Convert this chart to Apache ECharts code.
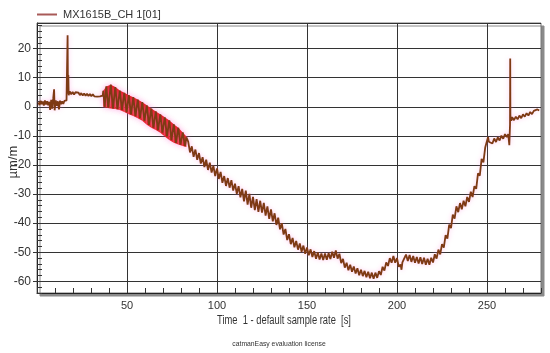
<!DOCTYPE html>
<html>
<head>
<meta charset="utf-8">
<script src="https://cdn.jsdelivr.net/npm/echarts@6/dist/echarts.min.js"></script>
<style>html,body{margin:0;padding:0;background:#fff}#c{width:550px;height:353px}</style>
</head>
<body>
<div id="c"></div>
<script>
// ---- data ----
const seriesName = 'MX1615B_CH 1[01]';
const xTitle = 'Time  1 - default sample rate  [s]';
const yTitle = 'µm/m';
const footer = 'catmanEasy evaluation license';
const xMajorTicks = [50, 100, 150, 200, 250];
const yMajorTicks = [-60, -50, -40, -30, -20, -10, 0, 10, 20];

// strain trace segments [time s, µm/m]
const traceStart = [[0.8,1.5],[1.4,0.6],[2.0,2.1],[2.6,0.9],[3.2,1.8],[3.8,0.4],[4.4,2.2],[5.0,0.8],[5.6,1.9],[6.2,0.5],[6.8,1.7],[7.3,-1.1],[7.9,2.4],[8.4,-0.6],[9.0,2.8],[9.5,6.0],[9.8,-1.2],[10.4,2.2],[11.0,0.3],[11.6,1.9],[12.2,-0.9],[12.8,2.1],[13.4,0.9],[14.0,1.9],[14.6,1.0],[15.2,2.0],[15.8,1.4],[16.4,2.2],[16.8,2.6],[17.0,24.6],[17.2,4.5],[17.4,10.9],[17.6,4.0],[18.2,5.3],[19.0,4.3],[19.8,5.1],[20.6,4.2],[21.4,5.0],[22.2,4.4],[23.0,4.9],[23.8,4.0],[24.6,4.7],[25.4,3.9],[26.2,4.6],[27.0,3.8],[27.8,4.5],[28.6,3.7],[29.4,4.4],[30.2,3.6],[31.0,4.3],[31.8,3.6],[32.6,4.2],[33.4,3.5],[34.2,4.1],[35.0,3.6],[35.8,4.1],[36.5,3.8]];
const traceBand = [[36.8,5.5],[37.6,0],[38.5,7.0],[39.6,-0.3],[41,7.6],[42.2,-0.6],[43.5,6.8],[44.7,-0.8],[46,5.6],[47.2,-1.1],[48.5,4.8],[49.8,-1.8],[51,4.0],[52.2,-2.6],[53.5,3.3],[54.7,-3.2],[56,2.5],[57.2,-3.9],[58.5,1.6],[59.7,-4.8],[61,0.5],[62.2,-6.2],[63.5,-0.6],[64.7,-7.2],[66,-1.6],[67.2,-8.0],[68.5,-2.6],[69.7,-8.9],[71,-3.6],[72.2,-10.2],[73.5,-4.7],[74.7,-11.4],[76,-6.0],[77.2,-12.4],[78.5,-7.2],[79.7,-13.0],[81,-8.8],[82.2,-13.5],[83,-10.5]];
const traceFall = [[84,-12.0],[85,-15.7],[86,-13.6],[87,-17.2],[88,-14.7],[89,-18.2],[90,-15.9],[91,-19.5],[92,-17.3],[93,-20.7],[94,-18.2],[95,-21.7],[96,-19.2],[97,-22.6],[98,-20.3],[99,-23.8],[100,-21.2],[101,-24.8],[102,-22.4],[103,-26.1],[104,-23.8],[105,-27.2],[106,-24.5],[107,-27.8],[108,-25.2],[109,-28.8],[110,-26.4],[111,-29.9],[112,-27.3],[113,-31.1],[114,-28.2],[115,-32.5],[116,-28.8],[117,-33.6],[118,-29.9],[119,-34.7],[120,-31.0],[121,-35.5],[122,-31.7],[123,-36.1],[124,-32.3],[125,-36.4],[126,-33.0],[127,-37.4],[128,-34.2],[129,-38.5],[130,-35.3],[131,-39.4],[132,-36.6],[133,-40.6],[134,-38.1],[135,-42.1],[136,-40.0],[137,-43.9],[138,-42.0],[139,-45.8],[140,-43.8],[141,-47.2],[142,-45.1],[143,-48.3],[144,-46.1],[145,-49.1],[146,-47.0],[147,-49.8],[148,-47.7],[149,-50.5],[150,-48.4],[151,-51.0],[152,-49.0],[153,-51.6],[154,-49.6],[155,-52.2],[156,-50.1],[157,-52.5],[158,-50.4],[159,-52.7],[160,-50.4],[161,-52.6],[162,-50.3],[163,-52.3],[164,-49.8],[165,-51.9],[166,-49.4],[167,-52.2],[168,-50.5],[169,-53.7],[170,-52.3],[171,-55.3],[172,-53.6],[173,-56.2],[174,-54.3],[175,-56.7],[176,-54.9],[177,-57.3],[178,-55.5],[179,-57.9],[180,-56.0],[181,-58.2],[182,-56.4],[183,-58.6],[184,-56.7],[185,-58.9],[186,-57.0],[187,-59.1],[188,-57.0],[189,-58.8],[190,-56.5],[191,-57.8],[192,-55.0],[193,-56.3],[194,-53.5],[195,-54.7],[196,-52.0],[197,-53.6],[198,-51.3],[199,-53.6],[200,-52.0],[201,-55.0],[202,-54.2],[202.5,-56.0],[203,-53.5],[204,-54.0],[205,-50.8]];
const traceRise = [[206,-53.0],[207,-50.9],[208,-53.3],[209,-51.3],[210,-53.6],[211,-51.6],[212,-53.9],[213,-51.7],[214,-54.0],[215,-51.9],[216,-54.3],[217,-52.2],[218,-54.3],[219,-51.9],[220,-53.5],[221,-50.7],[222,-52.2],[223,-49.1],[224,-50.7],[225,-47.2],[226,-48.4],[227,-44.1],[228,-45.3],[229,-40.5],[230,-41.7],[231,-37.1],[232,-38.4],[233,-34.2],[234,-36.2],[235,-33.1],[236,-35.2],[237,-32.3],[238,-34.2],[239,-31.0],[240,-32.7],[241,-29.2],[242,-31.0],[243,-27.3],[244,-28.2],[245,-22.9],[246,-23.7],[247,-17.9],[248,-19.1],[249,-14.0],[250,-14.3],[250.6,-10.4],[251,-12.0],[252,-11.4],[253,-12.6],[254,-10.9],[255,-12.1],[256,-10.5],[257,-11.6],[258,-9.9],[259,-11.0],[260,-9.4],[261,-10.4],[261.8,-9.4],[262.4,-13.2],[262.8,-6.0],[262.9,16.6],[263.0,-3.0],[263.5,-4.8],[264,-3.6],[265,-4.6],[266,-3.4],[267,-4.3],[268,-3.0],[269,-3.9],[270,-2.6],[271,-3.4],[272,-2.2],[273,-3.0],[274,-1.8],[275,-2.5],[276,-1.4],[277,-2.0],[278,-0.9],[279,-1.3]];

// red noise band envelope (time, low, high)
const bandX    = [36.8, 38.5, 41, 43.5, 46, 48.5, 51, 53.5, 56, 58.5, 61, 63.5, 66, 68.5, 71, 73.5, 76, 78.5, 81, 83];
const bandLow  = [0, -0.3, -0.6, -0.8, -1.1, -1.8, -2.6, -3.2, -3.9, -4.8, -6.2, -7.2, -8.0, -8.9, -10.2, -11.4, -12.4, -13.0, -13.5, -13.8];
const bandHigh = [5.5, 7.0, 7.6, 6.8, 5.6, 4.8, 4.0, 3.3, 2.5, 1.6, 0.5, -0.6, -1.6, -2.6, -3.6, -4.7, -6.0, -7.2, -8.8, -10.2];

const trace = traceStart.concat(traceBand, traceFall, traceRise);
const bandData = [];
for (let i = 0; i < bandX.length - 1; i++) {
  bandData.push([bandX[i], bandLow[i], bandHigh[i], bandX[i+1], bandLow[i+1], bandHigh[i+1]]);
}

const FONT = "'Liberation Sans', Arial, sans-serif";
const chart = echarts.init(document.getElementById('c'), null, {renderer: 'canvas'});
const T = 'rgba(0,0,0,0)';
const G = '#333';
chart.setOption({
  animation: false,
  backgroundColor: '#fff',
  grid: {
    left: 37, right: 9, top: 23, bottom: 60,
    show: true, backgroundColor: '#fff', borderColor: '#777', borderWidth: 1,
    shadowColor: '#8a8a8a', shadowBlur: 0, shadowOffsetX: 3, shadowOffsetY: 3
  },
  legend: {
    show: true, left: 37, top: 9, padding: 0, itemWidth: 20, itemHeight: 2, itemGap: 5, icon: 'rect',
    data: [{name: seriesName, itemStyle: {color: '#a85a58'}}],
    textStyle: {fontFamily: FONT, fontSize: 11, color: '#333', padding: [0, 0, 0, 1]}
  },
  xAxis: [{
    type: 'value', min: 0, max: 280, interval: 10,
    axisLine: {show: true, onZero: false, lineStyle: {color: '#222', width: 1}},
    axisTick: {show: true, inside: true, length: 5, lineStyle: {color: '#333'}},
    axisLabel: {fontFamily: FONT, fontSize: 11, color: '#333', margin: 7,
      formatter: v => (v > 0 && v % 50 === 0) ? String(v) : ''},
    splitLine: {show: true, lineStyle: {color: [G, T, T, T, T], width: 1}}
  }, {
    type: 'value', min: 0, max: 280, position: 'bottom',
    axisLine: {show: false},
    axisTick: {show: true, inside: false, length: 4, customValues: xMajorTicks, lineStyle: {color: '#333'}},
    axisLabel: {show: false},
    splitLine: {show: false}
  }],
  yAxis: [{
    type: 'value', min: -64, max: 28.8, interval: 2,
    axisLine: {show: true, onZero: false, lineStyle: {color: '#222', width: 1}},
    axisTick: {show: true, inside: true, length: 5, lineStyle: {color: '#333'}},
    axisLabel: {fontFamily: FONT, fontSize: 12, color: '#333', margin: 6,
      formatter: v => (Math.abs(v % 10) < 1e-9) ? String(v) : ''},
    splitLine: {show: true, lineStyle: {color: [T, T, G, T, T], width: 1}}
  }, {
    type: 'value', min: -64, max: 28.8, position: 'left',
    axisLine: {show: false},
    axisTick: {show: true, inside: false, length: 4, customValues: yMajorTicks, lineStyle: {color: '#333'}},
    axisLabel: {show: false},
    splitLine: {show: false}
  }],
  graphic: [
    {type: 'text', x: 284, y: 321, scaleX: 0.78, style: {text: xTitle, x: 0, y: 0, align: 'center', verticalAlign: 'middle', font: "12px " + FONT, fill: '#333'}},
    {type: 'text', x: 279, y: 344, scaleX: 0.85, style: {text: footer, x: 0, y: 0, align: 'center', verticalAlign: 'middle', font: "8px " + FONT, fill: '#333'}},
    {type: 'text', x: 13, y: 162, rotation: Math.PI / 2, style: {text: yTitle, x: 0, y: 0, align: 'center', verticalAlign: 'middle', font: "13px " + FONT, fill: '#333'}}
  ],
  series: [{
    type: 'custom', name: 'band', xAxisIndex: 0, yAxisIndex: 0, silent: true, z: 2,
    encode: {x: [0, 3], y: [1, 2, 4, 5]},
    data: bandData,
    renderItem: function (params, api) {
      const p = [api.coord([api.value(0), api.value(2)]), api.coord([api.value(3), api.value(5)]),
                 api.coord([api.value(3), api.value(4)]), api.coord([api.value(0), api.value(1)])];
      return {type: 'polygon', shape: {points: p}, style: {fill: '#e3140f', shadowColor: 'rgba(255,120,210,0.45)', shadowBlur: 6}};
    }
  }, {
    type: 'line', name: seriesName, xAxisIndex: 0, yAxisIndex: 0, z: 3,
    data: trace, showSymbol: false, symbol: 'none',
    lineStyle: {color: '#7e3a14', width: 1.8, shadowColor: 'rgba(255,120,210,0.4)', shadowBlur: 5},
    itemStyle: {color: '#a85a58'}
  }]
});
</script>
</body>
</html>
